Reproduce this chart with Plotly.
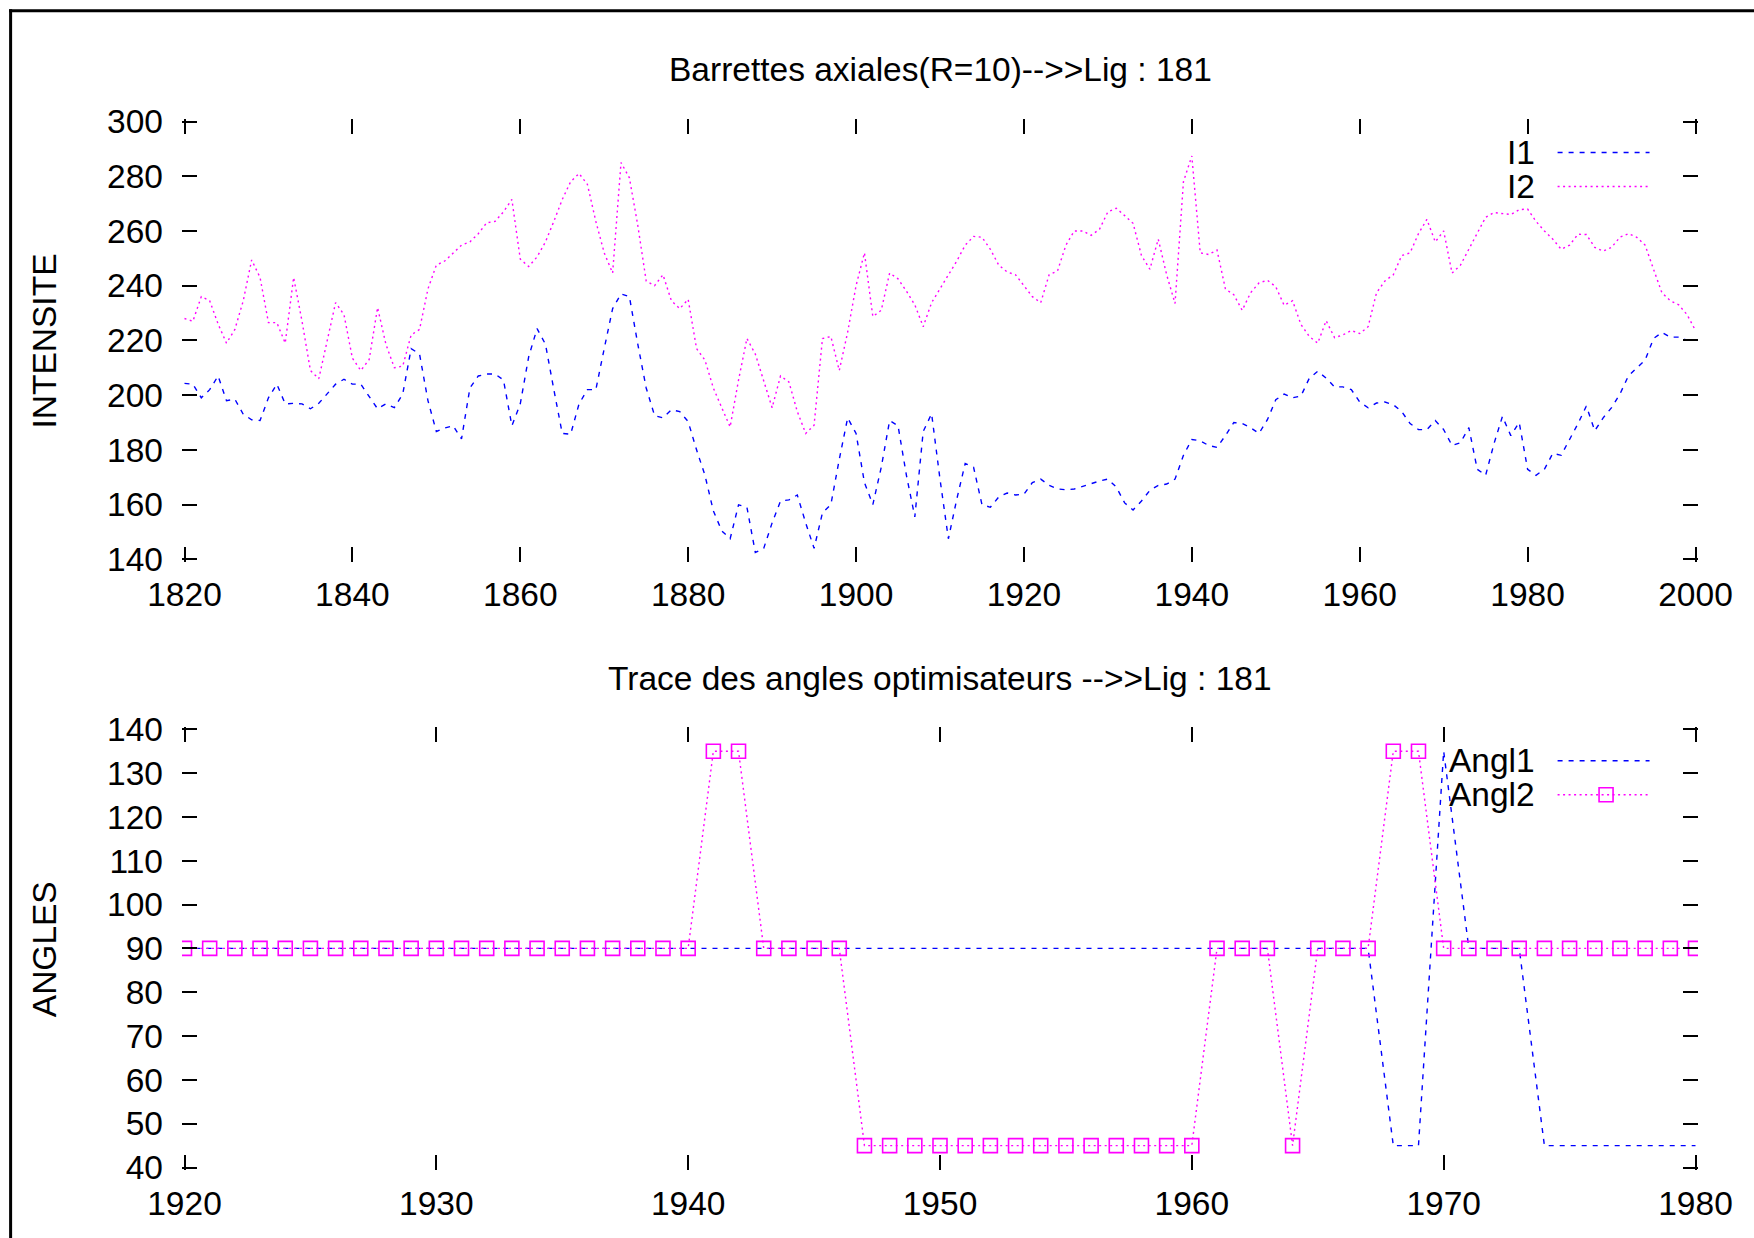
import plotly.graph_objects as go

# ---- Intensity series (annual values) ----
years = list(range(1820, 2001))

i1 = [
    204.3, 204.0, 199.0, 202.0, 207.0, 198.0, 198.5, 193.0, 191.0, 190.7,
    199.0, 204.0, 196.8, 197.0, 196.8, 195.0, 197.0, 200.4, 204.0, 205.8,
    204.0, 204.0, 199.7, 195.0, 196.8, 195.4, 200.4, 217.0, 215.0, 198.0,
    186.7, 188.0, 188.8, 184.0, 202.6, 207.0, 207.7, 207.7, 205.5, 188.8,
    196.8, 214.0, 224.3, 218.6, 202.0, 186.0, 185.7, 196.8, 202.0, 202.0,
    217.0, 231.6, 237.0, 236.0, 218.6, 202.6, 192.5, 191.7, 194.6, 194.0,
    190.3, 180.0, 170.7, 157.7, 150.4, 147.5, 159.9, 159.0, 142.5, 144.0,
    153.3, 161.3, 161.7, 163.5, 153.3, 144.0, 157.0, 160.0, 176.5, 191.7,
    186.0, 168.0, 160.0, 173.6, 190.7, 188.8, 170.7, 155.5, 186.7, 193.2,
    169.3, 147.5, 162.0, 175.0, 173.6, 160.0, 159.0, 162.8, 164.2, 163.5,
    163.8, 168.0, 169.3, 167.0, 165.7, 165.4, 165.7, 166.7, 167.5, 168.6,
    169.3, 166.4, 160.6, 158.0, 161.3, 165.2, 167.0, 167.5, 169.3, 178.0,
    183.8, 183.3, 181.6, 180.9, 185.2, 190.0, 189.6, 188.1, 186.0, 191.0,
    198.3, 200.4, 199.0, 199.7, 206.2, 208.7, 206.2, 203.0, 203.0, 202.0,
    197.5, 195.4, 197.1, 197.5, 196.5, 194.0, 189.6, 187.4, 187.4, 190.7,
    187.4, 181.6, 182.6, 188.1, 172.9, 170.7, 182.3, 192.2, 185.2, 190.0,
    172.9, 170.7, 172.9, 178.7, 178.0, 183.8, 189.6, 196.0, 187.0, 191.7,
    195.4, 200.4, 207.0, 209.9, 212.8, 220.7, 222.9, 221.2, 221.2, 220.0,
    220.0,
]

i2 = [
    228.0, 227.0, 236.0, 234.5, 226.0, 219.0, 224.0, 234.5, 249.4, 243.0,
    226.5, 226.5, 219.0, 243.0, 227.0, 209.0, 206.0, 220.0, 233.8, 229.4,
    213.5, 209.0, 213.0, 232.0, 218.5, 210.0, 210.6, 222.0, 224.0, 238.8,
    247.5, 249.0, 252.0, 254.8, 256.0, 259.0, 263.0, 263.5, 267.0, 271.5,
    249.7, 247.0, 250.5, 256.0, 263.5, 271.5, 278.0, 281.0, 277.0, 263.5,
    252.0, 244.6, 285.0, 279.4, 262.0, 241.7, 240.0, 244.0, 234.5, 231.6,
    235.0, 217.0, 212.8, 202.6, 195.4, 188.4, 205.5, 220.7, 215.0, 205.5,
    195.4, 207.0, 204.8, 194.0, 186.0, 189.0, 220.7, 221.4, 209.0, 223.0,
    240.0, 252.0, 228.7, 231.0, 244.6, 242.5, 238.0, 233.0, 225.0, 233.8,
    238.8, 244.0, 249.0, 254.8, 258.0, 257.7, 253.3, 247.5, 245.0, 244.0,
    240.0, 236.0, 233.8, 244.0, 245.4, 254.8, 260.0, 260.0, 258.4, 260.6,
    267.0, 268.3, 265.6, 262.8, 251.0, 246.0, 257.0, 244.0, 233.5, 278.0,
    287.4, 252.0, 251.4, 253.0, 238.8, 236.7, 231.0, 237.4, 241.0, 242.0,
    239.6, 232.8, 234.5, 225.8, 221.4, 219.0, 227.2, 221.0, 222.0, 223.6,
    222.5, 225.0, 237.4, 241.7, 244.0, 251.0, 252.0, 259.0, 264.2, 256.0,
    260.0, 244.6, 247.5, 253.3, 259.0, 265.0, 266.7, 266.4, 266.0, 267.8,
    268.0, 263.5, 260.0, 257.0, 253.3, 254.8, 258.8, 258.7, 254.0, 252.6,
    254.0, 257.7, 259.0, 257.7, 254.8, 246.0, 237.4, 234.5, 233.0, 229.4,
    223.6,
]

# ---- Optimising angles (annual values) ----
angle_years = list(range(1920, 1981))

angl1 = [
    90, 90, 90, 90, 90, 90, 90, 90, 90, 90,
    90, 90, 90, 90, 90, 90, 90, 90, 90, 90,
    90, 90, 90, 90, 90, 90, 90, 90, 90, 90,
    90, 90, 90, 90, 90, 90, 90, 90, 90, 90,
    90, 90, 90, 90, 90, 90, 90, 90, 45, 45,
    135, 90, 90, 90, 45, 45, 45, 45, 45, 45,
    45,
]

angl2 = [
    90, 90, 90, 90, 90, 90, 90, 90, 90, 90,
    90, 90, 90, 90, 90, 90, 90, 90, 90, 90,
    90, 135, 135, 90, 90, 90, 90, 45, 45, 45,
    45, 45, 45, 45, 45, 45, 45, 45, 45, 45,
    45, 90, 90, 90, 45, 90, 90, 90, 135, 135,
    90, 90, 90, 90, 90, 90, 90, 90, 90, 90,
    90,
]

BLUE = "#0000ff"
MAGENTA = "#ff00ff"
DASHED = "5px,6px"
DOTTED = "2px,3.5px"
FONT = "Liberation Sans, Arial, Helvetica, sans-serif"
FS = 33.5

W, H = 1754, 1238

# pixel positions of the axis end values (tick positions at the range ends)
X_LEFT, X_RIGHT = 184.0, 1696.0
TOP_Y_HI, TOP_Y_LO = 121.5, 559.5      # 300 and 140
BOT_Y_HI, BOT_Y_LO = 729.6, 1168.0     # 140 and 40
EDGE = 2.5  # small inset so the end ticks stay drawn

ML = X_LEFT - EDGE
MR = W - (X_RIGHT + EDGE)
MT = TOP_Y_HI - EDGE
MB = H - (BOT_Y_LO + EDGE)
PW = W - ML - MR
PH = H - MT - MB


def px_x(x):
    return (x - ML) / PW


def px_y(y):
    return (H - MB - y) / PH


def padded(lo, hi, length_px):
    d = EDGE * (hi - lo) / length_px
    return [lo - d, hi + d]


top_dom = [px_y(TOP_Y_LO + EDGE), 1.0]
bot_dom = [0.0, px_y(BOT_Y_HI - EDGE)]

fig = go.Figure()

fig.add_trace(go.Scatter(x=years, y=i1, mode="lines", name="I1",
                         line=dict(color=BLUE, width=1.4, dash=DASHED),
                         xaxis="x", yaxis="y"))
fig.add_trace(go.Scatter(x=years, y=i2, mode="lines", name="I2",
                         line=dict(color=MAGENTA, width=1.4, dash=DOTTED),
                         xaxis="x", yaxis="y"))
fig.add_trace(go.Scatter(x=angle_years, y=angl1, mode="lines", name="Angl1",
                         line=dict(color=BLUE, width=1.4, dash=DASHED),
                         xaxis="x2", yaxis="y2"))
fig.add_trace(go.Scatter(x=angle_years, y=angl2, mode="lines+markers", name="Angl2",
                         line=dict(color=MAGENTA, width=1.4, dash=DOTTED),
                         marker=dict(symbol="square-open", size=14, color=MAGENTA,
                                     line=dict(color=MAGENTA, width=1.6)),
                         xaxis="x2", yaxis="y2"))

axis_common = dict(
    showgrid=False, zeroline=False, showline=False,
    ticks="inside", ticklen=15, tickwidth=2, tickcolor="black",
    mirror="ticks",
    tickfont=dict(family=FONT, size=FS, color="black"),
)

fig.update_layout(
    width=W, height=H,
    margin=dict(l=ML, r=MR, t=MT, b=MB, pad=0),
    paper_bgcolor="white", plot_bgcolor="white",
    showlegend=False,
    font=dict(family=FONT, size=FS, color="black"),
    xaxis=dict(domain=[0, 1], anchor="y",
               range=padded(1820, 2000, X_RIGHT - X_LEFT), tick0=1820, dtick=20,
               ticklabelstandoff=10, **axis_common),
    yaxis=dict(domain=top_dom, anchor="x",
               range=padded(140, 300, TOP_Y_LO - TOP_Y_HI), tick0=140, dtick=20,
               ticklabelstandoff=18, **axis_common),
    xaxis2=dict(domain=[0, 1], anchor="y2",
                range=padded(1920, 1980, X_RIGHT - X_LEFT), tick0=1920, dtick=10,
                ticklabelstandoff=10, **axis_common),
    yaxis2=dict(domain=bot_dom, anchor="x2",
                range=padded(40, 140, BOT_Y_LO - BOT_Y_HI), tick0=40, dtick=10,
                ticklabelstandoff=18, **axis_common),
)

annotations = [
    dict(text="Barrettes axiales(R=10)-->>Lig : 181", x=px_x(940), y=px_y(69)),
    dict(text="Trace des angles optimisateurs -->>Lig : 181", x=px_x(940), y=px_y(679)),
    dict(text="INTENSITE", x=px_x(44), y=px_y(341), textangle=-90),
    dict(text="ANGLES", x=px_x(44), y=px_y(950), textangle=-90),
]
for a in annotations:
    a.update(xref="paper", yref="paper", xanchor="center", yanchor="middle",
             showarrow=False, font=dict(family=FONT, size=FS, color="black"))

# key entries: label on the left, line sample on the right
key_rows = [
    ("I1", 152.5, BLUE, DASHED, False),
    ("I2", 186.5, MAGENTA, DOTTED, False),
    ("Angl1", 761.0, BLUE, DASHED, False),
    ("Angl2", 795.0, MAGENTA, DOTTED, True),
]
shapes = []
for label, ypix, color, dash, with_marker in key_rows:
    annotations.append(dict(text=label, xref="paper", yref="paper",
                            x=px_x(1537), y=px_y(ypix), xanchor="right", yanchor="middle",
                            showarrow=False, font=dict(family=FONT, size=FS, color="black")))
    shapes.append(dict(type="line", xref="paper", yref="paper",
                       x0=px_x(1558), x1=px_x(1650), y0=px_y(ypix), y1=px_y(ypix),
                       line=dict(color=color, width=1.4, dash=dash)))
    if with_marker:
        cx = 1606.5
        shapes.append(dict(type="rect", xref="paper", yref="paper",
                           x0=px_x(cx - 7), x1=px_x(cx + 7),
                           y0=px_y(ypix - 7), y1=px_y(ypix + 7),
                           line=dict(color=color, width=1.6)))

# outer frame (top and left edges)
shapes.append(dict(type="line", xref="paper", yref="paper",
                   x0=px_x(8.5), x1=px_x(W + 5), y0=px_y(10.8), y1=px_y(10.8),
                   line=dict(color="black", width=3)))
shapes.append(dict(type="line", xref="paper", yref="paper",
                   x0=px_x(10), x1=px_x(10), y0=px_y(9.3), y1=px_y(H + 5),
                   line=dict(color="black", width=3)))

fig.update_layout(annotations=annotations, shapes=shapes)

fig.write_html("out.html", config={"displayModeBar": False})
